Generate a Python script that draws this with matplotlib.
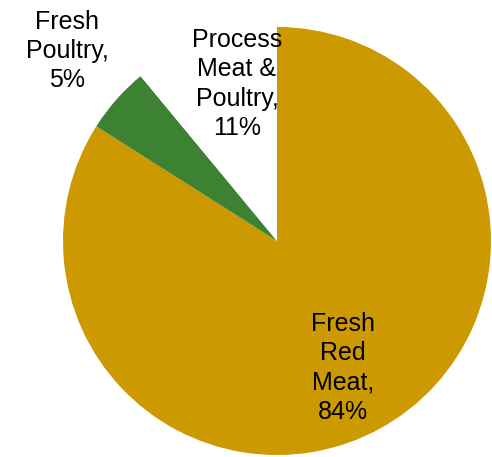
import matplotlib
matplotlib.use("Agg")
import matplotlib.pyplot as plt

categories = ["Fresh Red Meat", "Fresh Poultry", "Process Meat & Poultry"]
values = [84, 5, 11]
colors = ["#CC9900", "#3D8133", "#FFFFFF"]
label_texts = ["Fresh\nRed\nMeat,\n84%", "Fresh\nPoultry,\n5%", "Process\nMeat &\nPoultry,\n11%"]

W, H, DPI = 492, 457, 100
fig = plt.figure(figsize=(W / DPI, H / DPI), dpi=DPI)
ax = fig.add_axes([0, 0, 1, 1])

cx, cy, R = 277, 241, 214  # pixel centre and radius
ax.pie(values, colors=colors, startangle=90, counterclock=False,
       radius=1.0, center=(0, 0), wedgeprops=dict(linewidth=0))

ax.set_xlim(-cx / R, (W - cx) / R)
ax.set_ylim(-(H - cy) / R, cy / R)
ax.set_aspect("equal")
ax.axis("off")

def px(x, y):
    return (x - cx) / R, (cy - y) / R

label_pos = [px(343, 368), px(67, 51), px(237, 84)]
for txt, (x, y) in zip(label_texts, label_pos):
    ax.text(x, y, txt, ha="center", va="center", fontsize=18,
            family="Liberation Sans", linespacing=1.28, color="black")

fig.savefig("out.png", dpi=DPI)
